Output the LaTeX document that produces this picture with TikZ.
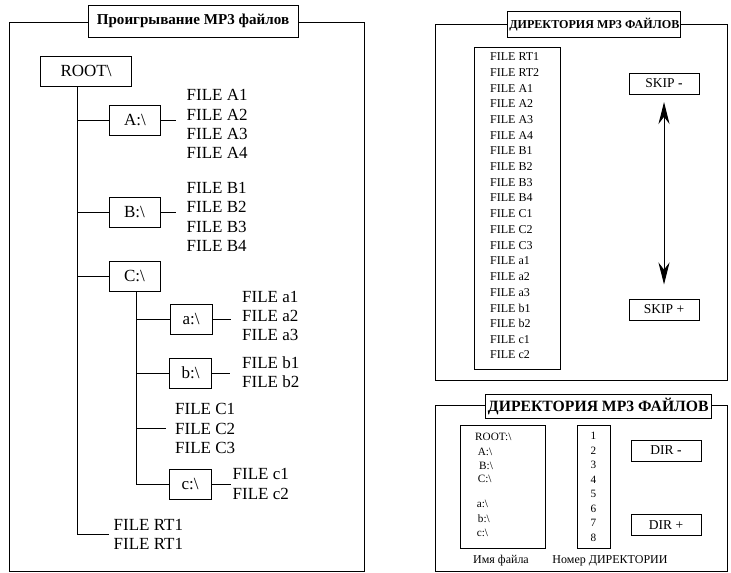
\documentclass[tikz,border=0pt]{standalone}
\usepackage{fontspec}
\setmainfont{Liberation Serif}
\usetikzlibrary{arrows.meta}
\tikzset{
  every node/.style={font=\fontsize{17}{19.2}\selectfont},
  frame/.style={draw, line width=1pt},
  title/.style={draw, fill=white, line width=1pt, inner sep=0pt,
    font=\bfseries\fontsize{15.1}{18}\selectfont},
  dirbox/.style={draw, line width=1pt, inner sep=0pt, minimum height=30pt},
  files/.style={align=left, inner sep=0pt},
  link/.style={line width=1pt},
  listbox/.style={draw, line width=1pt, inner sep=0pt},
  listtext/.style={inner sep=0pt, font=\fontsize{12}{14}\selectfont},
  dirtext/.style={inner sep=0pt, font=\fontsize{11.2}{13}\selectfont},
  button/.style={draw, line width=1pt, inner sep=0pt, minimum width=70pt,
    minimum height=21pt, font=\fontsize{13.5}{16}\selectfont}
}

\begin{document}
\begin{tikzpicture}[x=1pt,y=-1pt]
  \useasboundingbox (0,0) rectangle (731,573);

  % left panel: tree of folders
  \draw[frame] (9.5,22) rectangle (364,571);
  \node[title, minimum width=210pt, minimum height=32pt] (ttree) at (193,21) {Проигрывание MP3 файлов};

  \node[dirbox, minimum width=91pt] (root) at (86,71) {ROOT\textbackslash};
  \node[dirbox, minimum width=51pt] (adir) at (135,120) {A:\textbackslash};
  \node[dirbox, minimum width=51pt] (bdir) at (134.5,212.5) {B:\textbackslash};
  \node[dirbox, minimum width=51pt] (cdir) at (134.5,276) {C:\textbackslash};
  \node[dirbox, minimum width=42pt] (asub) at (191,319.5) {a:\textbackslash};
  \node[dirbox, minimum width=42pt] (bsub) at (190.5,373) {b:\textbackslash};
  \node[dirbox, minimum width=42pt] (csub) at (190,484.5) {c:\textbackslash};

  \node[files, anchor=west] (afiles) at (186.5,124) {FILE A1\\FILE A2\\FILE A3\\FILE A4};
  \node[files, anchor=west] (bfiles) at (186.5,217) {FILE B1\\FILE B2\\FILE B3\\FILE B4};
  \node[files, anchor=west] (asubfiles) at (242,316) {FILE a1\\FILE a2\\FILE a3};
  \node[files, anchor=west] (bsubfiles) at (242,372.5) {FILE b1\\FILE b2};
  \node[files, anchor=west] (cfiles) at (175,428.5) {FILE C1\\FILE C2\\FILE C3};
  \node[files, anchor=west] (csubfiles) at (232.5,484) {FILE c1\\FILE c2};
  \node[files, anchor=west] (rtfiles) at (113.5,534.5) {FILE RT1\\FILE RT1};

  \coordinate (trunk) at (77.7,0);
  \coordinate (ctrunk) at (136.7,0);
  \draw[link, shorten >=4.5pt] (root.south -| trunk) |- (rtfiles.west);
  \foreach \d in {adir,bdir,cdir}
    \draw[link] (trunk |- \d.west) -- (\d.west);
  \draw[link] (cdir.south -| ctrunk) |- (csub.west);
  \foreach \d in {asub,bsub}
    \draw[link] (ctrunk |- \d.west) -- (\d.west);
  \draw[link, shorten >=9pt] (ctrunk |- cfiles.west) -- (cfiles.west);
  \foreach \d/\f/\g in {adir/afiles/11,bdir/bfiles/11,asub/asubfiles/11,bsub/bsubfiles/12,csub/csubfiles/2}
    \draw[link, shorten >=\g pt] (\d.east) -- (\d.east -| \f.west);

  % right top panel: file list
  \draw[frame] (435,24.5) rectangle (727,380.5);
  \node[title, minimum width=173pt, minimum height=25.5pt,
    font=\bfseries\fontsize{12.1}{14}\selectfont] (tlist) at (594.3,24.5) {ДИРЕКТОРИЯ MP3 ФАЙЛОВ};
  \node[listbox, minimum width=86pt, minimum height=322pt] (filebox) at (517,208) {};
  \foreach \f [count=\i from 0] in {RT1,RT2,A1,A2,A3,A4,B1,B2,B3,B4,C1,C2,C3,a1,a2,a3,b1,b2,c1,c2}
    \node[listtext, anchor=west] (f\i) at (490,{56.7+15.7*\i}) {FILE \f};

  \node[button] (skipminus) at (664,83.5) {SKIP \textbf{-}};
  \node[button] (skipplus) at (664,309.5) {SKIP +};
  \draw[link, {Stealth[length=22pt,width=11pt]}-{Stealth[length=22pt,width=11pt]},
    shorten <=7.5pt, shorten >=14pt] (skipminus.south) -- (skipplus.north);

  % right bottom panel: folder list
  \draw[frame] (435,405.5) rectangle (727,571);
  \node[title, minimum width=226.5pt, minimum height=23.5pt,
    font=\bfseries\fontsize{15.7}{18}\selectfont] (tdir) at (598.3,406.7) {ДИРЕКТОРИЯ MP3 ФАЙЛОВ};
  \node[listbox, minimum width=85pt, minimum height=122.5pt] (namebox) at (502.5,487) {};
  \node[listbox, minimum width=33pt, minimum height=122.5pt] (numbox) at (594.2,487) {};
  \foreach \n/\x/\y in {ROOT/475/436.7,A/477.7/451.7,B/479/465.7,C/477.7/479,a/476.7/504,b/477.7/518.3,c/476.7/533.3}
    \node[dirtext, anchor=west] (name\n) at (\x,\y) {\n:\textbackslash};
  \foreach \n in {1,...,8}
    \node[dirtext] (num\n) at (593.3,{436+14.5*(\n-1)}) {\n};

  \node[button] (dirminus) at (666,450.5) {DIR \textbf{-}};
  \node[button] (dirplus) at (666,525.3) {DIR +};
  \node[dirtext, font=\fontsize{12}{14}\selectfont] (namelabel) at (501,561) {Имя файла};
  \node[dirtext, font=\fontsize{12}{14}\selectfont] (numlabel) at (610,561) {Номер ДИРЕКТОРИИ};
\end{tikzpicture}
\end{document}
